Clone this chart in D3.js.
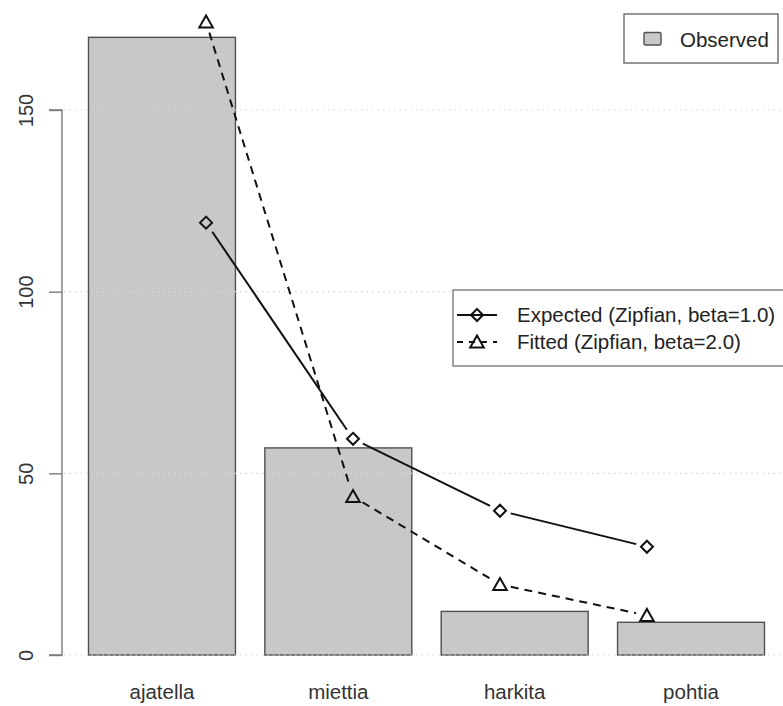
<!DOCTYPE html>
<html>
<head>
<meta charset="utf-8">
<script src="https://cdn.jsdelivr.net/npm/d3@7"></script>
<style>
  html, body { margin: 0; padding: 0; background: #fff; }
  svg { display: block; font-family: "Liberation Sans", Arial, Helvetica, sans-serif; }
</style>
</head>
<body>
<svg id="chart" width="783" height="706"></svg>
<script>
// Word frequencies with Zipfian reference curves
const categories = ["ajatella", "miettia", "harkita", "pohtia"];
const observed = [170, 57, 12, 9];
const expected = [119.0, 59.5, 39.7, 29.8];   // Zipfian, beta = 1.0
const fitted = [174.2, 43.6, 19.4, 10.9];     // Zipfian, beta = 2.0
const yTicks = [0, 50, 100, 150];

const svg = d3.select("#chart");

// Bar-plot coordinate system: bars of width 1 separated by 0.2
const barMid = categories.map((_, i) => 0.7 + 1.2 * i);
const pointX = categories.map((_, i) => i + 1);

const x = d3.scaleLinear().domain([0.2, 4.8]).range([88.5, 764.5]);
const y = d3.scaleLinear().domain([0, 150]).range([655, 110]);

// Bars
svg.append("g").selectAll("rect")
  .data(observed)
  .join("rect")
  .attr("x", (d, i) => x(barMid[i] - 0.5))
  .attr("width", (d, i) => x(barMid[i] + 0.5) - x(barMid[i] - 0.5))
  .attr("y", d => y(d))
  .attr("height", d => y(0) - y(d))
  .attr("fill", "#c8c8c8")
  .attr("stroke", "#505050")
  .attr("stroke-width", 1.4);

// Dotted horizontal grid
svg.append("g").selectAll("line")
  .data(yTicks)
  .join("line")
  .attr("x1", 64).attr("x2", 783)
  .attr("y1", d => y(d)).attr("y2", d => y(d))
  .attr("stroke", "#d8d8d8")
  .attr("stroke-width", 1.2)
  .attr("stroke-dasharray", "1.5,4");

// Left axis
const yAxis = d3.axisLeft(y).tickValues(yTicks).tickSize(13).tickFormat(d3.format("d"));
const axisG = svg.append("g").attr("transform", "translate(62,0)").call(yAxis);
axisG.select(".domain").attr("stroke", "#7a7a7a").attr("stroke-width", 1.4)
  .attr("d", `M-13,${y(0)}H0V${y(150)}H-13`);
axisG.selectAll(".tick line").attr("stroke", "#7a7a7a").attr("stroke-width", 1.4);
axisG.selectAll(".tick text")
  .attr("x", 0).attr("y", 0).attr("dy", 0)
  .attr("transform", "translate(-29,0) rotate(-90)")
  .attr("text-anchor", "middle")
  .attr("font-size", 20)
  .attr("font-family", "Liberation Sans, Arial, sans-serif")
  .attr("fill", "#333");

// Category labels
svg.append("g").selectAll("text")
  .data(categories)
  .join("text")
  .attr("x", (d, i) => x(barMid[i]))
  .attr("y", 699)
  .attr("text-anchor", "middle")
  .attr("font-size", 20.5)
  .attr("fill", "#333")
  .text(d => d);

// Connected points with gaps around each marker
function drawSeries(values, dash, marker) {
  const pts = values.map((v, i) => [x(pointX[i]), y(v)]);
  const gap = 11;
  const g = svg.append("g");
  for (let i = 0; i < pts.length - 1; i++) {
    const [x0, y0] = pts[i], [x1, y1] = pts[i + 1];
    const len = Math.hypot(x1 - x0, y1 - y0);
    const ux = (x1 - x0) / len, uy = (y1 - y0) / len;
    g.append("line")
      .attr("x1", x0 + ux * gap).attr("y1", y0 + uy * gap)
      .attr("x2", x1 - ux * gap).attr("y2", y1 - uy * gap)
      .attr("stroke", "#111")
      .attr("stroke-width", 2)
      .attr("stroke-dasharray", dash);
  }
  pts.forEach(p => marker(g, p[0], p[1]));
}

function diamond(g, cx, cy) {
  const r = 6;
  g.append("path")
    .attr("d", `M${cx},${cy - r}L${cx + r},${cy}L${cx},${cy + r}L${cx - r},${cy}Z`)
    .attr("fill", "none").attr("stroke", "#111").attr("stroke-width", 2);
}
function triangle(g, cx, cy) {
  const h = 6;
  g.append("path")
    .attr("d", `M${cx},${cy - h - 0.5}L${cx + 6.8},${cy + h - 0.5}L${cx - 6.8},${cy + h - 0.5}Z`)
    .attr("fill", "none").attr("stroke", "#111").attr("stroke-width", 2)
    .attr("stroke-linejoin", "miter");
}

drawSeries(expected, null, diamond);
drawSeries(fitted, "8,6", triangle);

// Legend: observed bars
const leg1 = svg.append("g");
leg1.append("rect").attr("x", 624).attr("y", 14).attr("width", 154).attr("height", 49)
  .attr("fill", "#fff").attr("stroke", "#6a6a6a").attr("stroke-width", 1.4);
leg1.append("rect").attr("x", 644).attr("y", 32.5).attr("width", 17).attr("height", 12.5)
  .attr("rx", 1.5)
  .attr("fill", "#c8c8c8").attr("stroke", "#505050").attr("stroke-width", 1.4);
leg1.append("text").attr("x", 680).attr("y", 46.5).attr("font-size", 20.5).attr("fill", "#222")
  .text("Observed");

// Legend: reference curves
const leg2 = svg.append("g");
leg2.append("rect").attr("x", 453).attr("y", 290).attr("width", 340).attr("height", 76)
  .attr("fill", "#fff").attr("stroke", "#7a7a7a").attr("stroke-width", 1.4);
leg2.append("line").attr("x1", 457).attr("x2", 497).attr("y1", 315).attr("y2", 315)
  .attr("stroke", "#111").attr("stroke-width", 2);
diamond(leg2, 477, 315);
leg2.append("line").attr("x1", 457).attr("x2", 497).attr("y1", 342).attr("y2", 342)
  .attr("stroke", "#111").attr("stroke-width", 2).attr("stroke-dasharray", "6,6");
triangle(leg2, 477, 342);
leg2.append("text").attr("x", 517).attr("y", 322).attr("font-size", 20.5).attr("fill", "#222")
  .text("Expected (Zipfian, beta=1.0)");
leg2.append("text").attr("x", 517).attr("y", 349).attr("font-size", 20.5).attr("fill", "#222")
  .text("Fitted (Zipfian, beta=2.0)");
</script>
</body>
</html>
